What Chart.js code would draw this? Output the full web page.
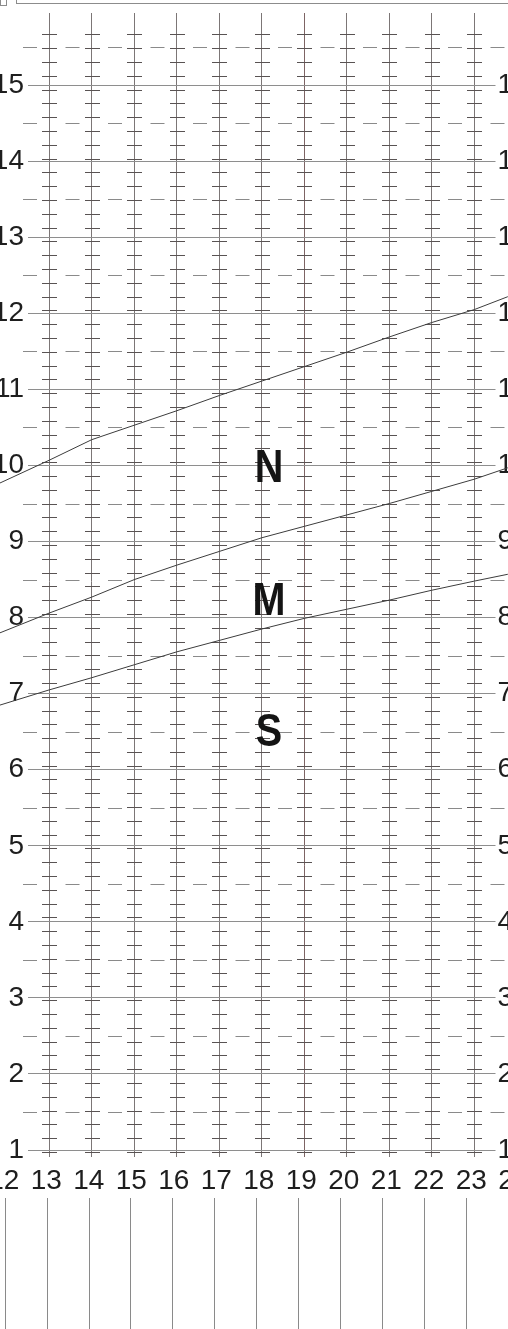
<!DOCTYPE html>
<html>
<head>
<meta charset="utf-8">
<script src="https://cdn.jsdelivr.net/npm/chart.js@4.4.1/dist/chart.umd.min.js"></script>
<style>
  html, body { margin: 0; padding: 0; background: #fff; }
  #wrap { position: relative; width: 508px; height: 1329px; overflow: hidden; }
  .kotak { position: absolute; border: 1px solid #8c8c8c; }
</style>
</head>
<body>
<div id="wrap">
  <canvas id="grafik"></canvas>
  <div class="kotak" style="left:0;top:-2px;width:5px;height:6px"></div>
  <div class="kotak" style="left:16px;top:-10px;width:520px;height:12px"></div>
</div>
<script>
// data kurva (umur vs nilai)
const ages = [11.84, 13, 14, 15, 16, 17, 18, 19, 20, 21, 22, 23, 23.79];
const upperLine = [9.77, 10.07, 10.34, 10.53, 10.72, 10.92, 11.11, 11.3, 11.49, 11.69, 11.88, 12.05, 12.22];
const middleLine = [7.8, 8.06, 8.27, 8.5, 8.69, 8.87, 9.05, 9.2, 9.35, 9.5, 9.66, 9.82, 9.97];
const lowerLine = [6.85, 7.05, 7.21, 7.38, 7.55, 7.7, 7.85, 7.99, 8.11, 8.23, 8.36, 8.48, 8.57];

const xTicks = [12, 13, 14, 15, 16, 17, 18, 19, 20, 21, 22, 23, 24];
const yTicks = [1, 2, 3, 4, 5, 6, 7, 8, 9, 10, 11, 12, 13, 14, 15];
const halfRows = [1.5, 2.5, 3.5, 4.5, 5.5, 6.5, 7.5, 8.5, 9.5, 10.5, 11.5, 12.5, 13.5, 14.5, 15.5];
const halfCols = [12.5, 13.5, 14.5, 15.5, 16.5, 17.5, 18.5, 19.5, 20.5, 21.5, 22.5, 23.5];

const zoneLabels = ['N', 'M', 'S'];
const zoneX = [18.17, 18.17, 18.17];
const zoneY = [9.98, 8.23, 6.51];

// skala tanda kecil (silang) di tiap garis vertikal
const MINOR_START = 0.974;
const MINOR_STEP = 0.1814;
const MINOR_COUNT = 82;

const FONT = '"Liberation Sans", Arial, sans-serif';

const dekorasi = {
    id: 'dekorasi',
    beforeDatasetsDraw(chart) {
        const ctx = chart.ctx;
        const xs = chart.scales.x, ys = chart.scales.y;
        ctx.save();
        ctx.lineWidth = 1;
        // silang kecil
        ctx.strokeStyle = '#595353';
        ctx.beginPath();
        xTicks.filter(v => v >= 13 && v <= 23).forEach(v => {
            const px = Math.round(xs.getPixelForValue(v)) + 0.5;
            for (let k = 0; k < MINOR_COUNT; k++) {
                const py = Math.round(ys.getPixelForValue(MINOR_START + k * MINOR_STEP)) + 0.5;
                ctx.moveTo(px - 7.5, py);
                ctx.lineTo(px + 7.5, py);
            }
        });
        ctx.stroke();
        // garis putus panjang di setengah nilai
        ctx.strokeStyle = '#8a8a8a';
        ctx.beginPath();
        halfCols.forEach(c => {
            const px = xs.getPixelForValue(c) + 2;
            halfRows.forEach(r => {
                const py = Math.round(ys.getPixelForValue(r)) + 0.5;
                ctx.moveTo(px - 7, py);
                ctx.lineTo(px + 7, py);
            });
        });
        ctx.stroke();
        ctx.restore();
    },
    afterDatasetsDraw(chart) {
        const ctx = chart.ctx;
        const xs = chart.scales.x, ys = chart.scales.y;
        ctx.save();
        ctx.fillStyle = '#141414';
        ctx.font = 'bold 46px ' + FONT;
        ctx.textAlign = 'center';
        ctx.textBaseline = 'middle';
        zoneLabels.forEach((t, i) => {
            const px = xs.getPixelForValue(zoneX[i]);
            const py = ys.getPixelForValue(zoneY[i]) + 2;
            ctx.save();
            ctx.translate(px, py);
            ctx.scale(0.86, 1);
            ctx.fillText(t, 0, 0);
            ctx.restore();
        });
        ctx.restore();
    },
    afterDraw(chart) {
        // garis vertikal di bawah label sumbu x
        const ctx = chart.ctx;
        const xs = chart.scales.x;
        ctx.save();
        ctx.strokeStyle = '#8a8a8a';
        ctx.lineWidth = 1;
        ctx.beginPath();
        xTicks.forEach(v => {
            const px = Math.round(xs.getPixelForValue(12 + (v - 12) * 0.986) - 2) + 0.5;
            ctx.moveTo(px, 1198);
            ctx.lineTo(px, chart.height);
        });
        ctx.stroke();
        ctx.restore();
    }
};

function gridColorX(c) {
    const v = c.tick ? c.tick.value : 0;
    if (v < 13 || v > 23) return 'rgba(0,0,0,0)';
    return v === 19 ? '#7d6464' : '#7c7676';
}

const lineStyle = {
    borderColor: '#3c3c3c',
    borderWidth: 1,
    pointRadius: 0,
    tension: 0,
    fill: false,
    clip: false
};

const yAxisBase = {
    type: 'linear',
    min: 1,
    max: 15.95,
    afterBuildTicks: s => { s.ticks = yTicks.map(v => ({ value: v })); },
    border: { display: false },
    ticks: {
        font: { family: FONT, size: 28 },
        color: '#1e1e1e',
        autoSkip: false
    }
};

new Chart(document.getElementById('grafik'), {
    type: 'line',
    data: {
        datasets: [
            Object.assign({ label: 'N', data: ages.map((a, i) => ({ x: a, y: upperLine[i] })) }, lineStyle),
            Object.assign({ label: 'M', data: ages.map((a, i) => ({ x: a, y: middleLine[i] })) }, lineStyle),
            Object.assign({ label: 'S', data: ages.map((a, i) => ({ x: a, y: lowerLine[i] })) }, lineStyle)
        ]
    },
    options: {
        responsive: true,
        maintainAspectRatio: false,
        animation: false,
        events: [],
        layout: { padding: { top: 13, left: 0, right: 0, bottom: 0 } },
        plugins: { legend: { display: false }, tooltip: { enabled: false } },
        scales: {
            x: {
                type: 'linear',
                min: 12.5,
                max: 23.5,
                afterBuildTicks: s => { s.ticks = xTicks.map(v => ({ value: v })); },
                afterFit: s => { s.height = 179; s.paddingLeft = 0; s.paddingRight = 0; },
                border: { display: false },
                grid: { color: gridColorX, lineWidth: 1, drawTicks: true, tickLength: 7 },
                ticks: {
                    font: { family: FONT, size: 28 },
                    color: '#1e1e1e',
                    autoSkip: false,
                    maxRotation: 0,
                    padding: 7,
                    labelOffset: -3
                }
            },
            y: Object.assign({}, yAxisBase, {
                position: 'left',
                afterFit: s => { s.width = 28; s.paddingTop = 0; s.paddingBottom = 0; },
                grid: { color: '#8e8e8e', lineWidth: 1, drawTicks: false },
                ticks: Object.assign({}, yAxisBase.ticks, { padding: 4 })
            }),
            y2: Object.assign({}, yAxisBase, {
                position: 'right',
                afterFit: s => { s.width = 12.5; s.paddingTop = 0; s.paddingBottom = 0; },
                grid: { display: false, drawTicks: false },
                ticks: Object.assign({}, yAxisBase.ticks, { padding: 2 })
            })
        }
    },
    plugins: [dekorasi]
});
</script>
</body>
</html>
